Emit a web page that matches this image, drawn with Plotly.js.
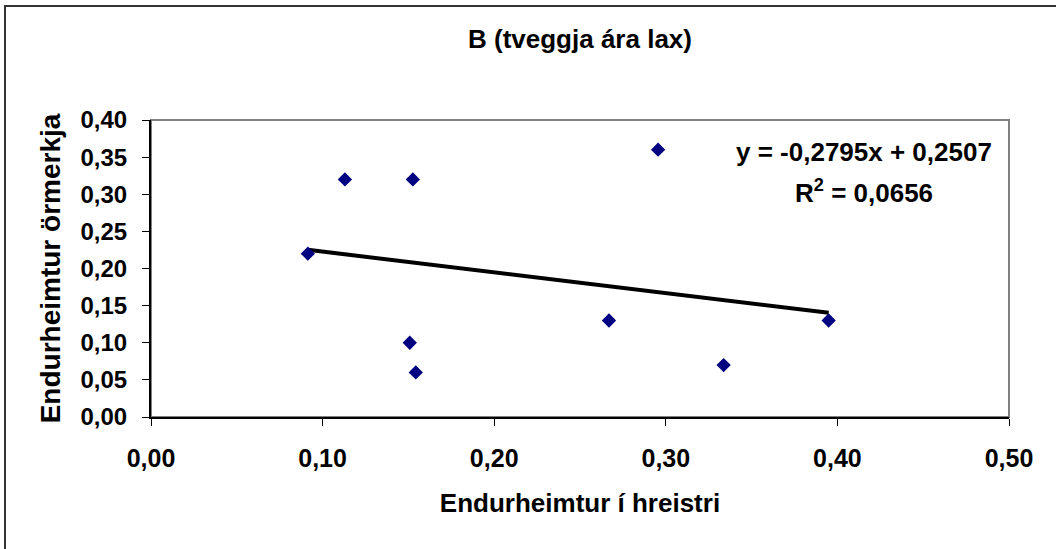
<!DOCTYPE html>
<html>
<head>
<meta charset="utf-8">
<script src="https://cdn.plot.ly/plotly-3.0.1.min.js"></script>
<style>html,body{margin:0;padding:0;background:#fff;}#chart{width:1056px;height:549px;}</style>
</head>
<body>
<div id="chart"></div>
<script>
// Data
const scaleRecovery = [0.0914, 0.113, 0.1526, 0.1508, 0.1543, 0.2669, 0.2955, 0.3337, 0.3949];
const tagRecovery   = [0.22,   0.32,  0.32,   0.10,   0.06,   0.13,   0.36,   0.07,   0.13];
const slope = -0.2795;
const intercept = 0.2507;
const rSquared = "0,0656";
const xTicks = [0, 0.1, 0.2, 0.3, 0.4, 0.5];
const xTickText = ["0,00", "0,10", "0,20", "0,30", "0,40", "0,50"];
const yTicks = [0, 0.05, 0.1, 0.15, 0.2, 0.25, 0.3, 0.35, 0.4];
const yTickText = ["0,00", "0,05", "0,10", "0,15", "0,20", "0,25", "0,30", "0,35", "0,40"];
const titleText = "B (tveggja ára lax)";
const xTitle = "Endurheimtur í hreistri";
const yTitle = "Endurheimtur örmerkja";

const xmin = Math.min(...scaleRecovery), xmax = Math.max(...scaleRecovery);
const trendX = [xmin, xmax];
const trendY = trendX.map(x => slope * x + intercept);

const FONT = "Arial, 'Liberation Sans', sans-serif";

const traces = [
  {
    x: trendX, y: trendY, mode: 'lines', type: 'scatter',
    line: {color: '#000000', width: 4}, hoverinfo: 'skip', showlegend: false
  },
  {
    x: scaleRecovery, y: tagRecovery, mode: 'markers', type: 'scatter',
    marker: {symbol: 'diamond', size: 11, color: '#000080'}, showlegend: false,
    cliponaxis: false
  }
];

const layout = {
  width: 1056, height: 549,
  margin: {l: 151, r: 47, t: 120, b: 132},
  paper_bgcolor: '#ffffff', plot_bgcolor: '#ffffff',
  font: {family: FONT, color: '#000000'},
  showlegend: false,
  title: {text: '<b>' + titleText + '</b>', font: {family: FONT, size: 26, color: '#000'},
          x: 528 / 1056, xref: 'paper', y: 1 - 38.5 / 549, yanchor: 'middle', xanchor: 'center'},
  xaxis: {
    range: [0, 0.5], tickvals: xTicks, ticktext: xTickText,
    showgrid: false, zeroline: false, showline: true, linecolor: '#000', linewidth: 2,
    ticks: 'outside', ticklen: 7, tickcolor: '#000', tickwidth: 1,
    ticklabelstandoff: 11,
    tickfont: {family: FONT, size: 25, color: '#000', weight: 'bold'},
    title: {text: '<b>' + xTitle + '</b>', font: {family: FONT, size: 26, color: '#000'}, standoff: 23},
    fixedrange: true
  },
  yaxis: {
    range: [0, 0.4], tickvals: yTicks, ticktext: yTickText,
    showgrid: false, zeroline: false, showline: true, linecolor: '#000', linewidth: 2,
    ticks: 'outside', ticklen: 7, tickcolor: '#000', tickwidth: 1,
    ticklabelstandoff: 10,
    tickfont: {family: FONT, size: 24, color: '#000', weight: 'bold'},
    title: {text: '<b>' + yTitle + '</b>', font: {family: FONT, size: 28, color: '#000'}, standoff: 12},
    fixedrange: true
  },
  shapes: [
    {type: 'rect', xref: 'paper', yref: 'paper', x0: 0, x1: 1, y0: 0, y1: 1,
     line: {color: '#808080', width: 2}, layer: 'below'},
    {type: 'rect', xref: 'paper', yref: 'paper',
     x0: (5 - 151) / 858, x1: (1070 - 151) / 858, y0: -(560 - 417) / 297, y1: (417 - 6) / 297,
     line: {color: '#333333', width: 2}, layer: 'below'}
  ],
  annotations: [
    {xref: 'paper', yref: 'paper', x: (864 - 151) / 858, y: (417 - 152) / 297,
     text: '<b>y = ' + slope.toFixed(4).replace('.', ',') + 'x + ' + intercept.toFixed(4).replace('.', ',') + '</b>',
     showarrow: false, xanchor: 'center', yanchor: 'middle', font: {family: FONT, size: 26, color: '#000'}},
    {xref: 'paper', yref: 'paper', x: (864 - 151) / 858, y: (417 - 191) / 297,
     text: '<b>R<sup>2</sup> = ' + rSquared + '</b>',
     showarrow: false, xanchor: 'center', yanchor: 'middle', font: {family: FONT, size: 26, color: '#000'}}
  ]
};

Plotly.newPlot('chart', traces, layout, {displayModeBar: false, staticPlot: true});
</script>
</body>
</html>
